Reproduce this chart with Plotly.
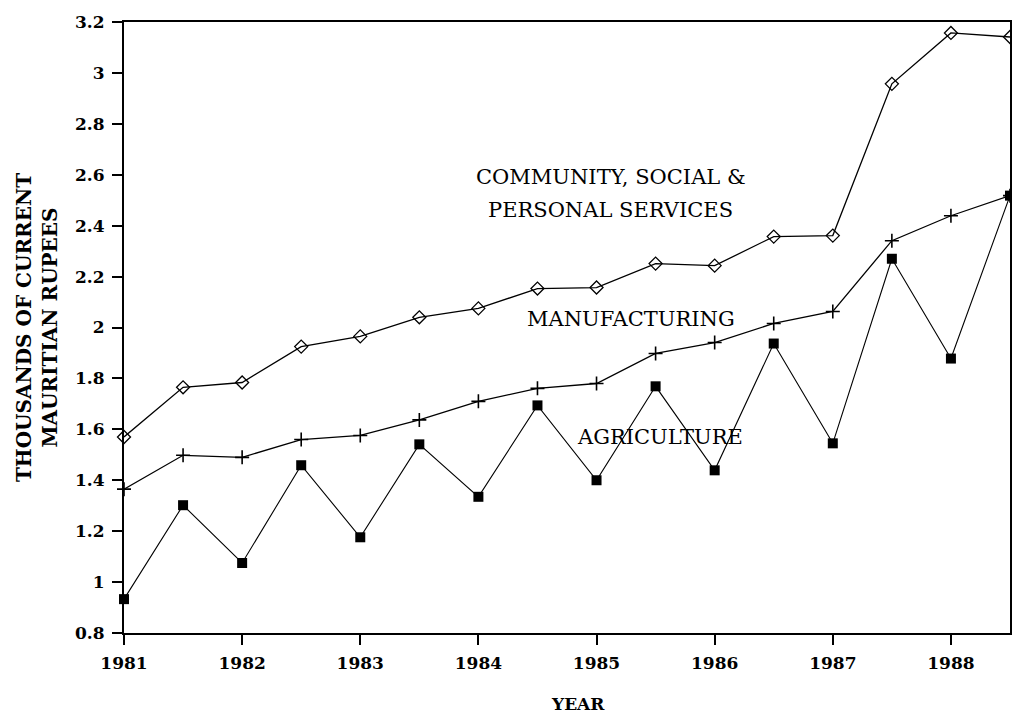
import plotly.graph_objects as go

years = [1981, 1981.5, 1982, 1982.5, 1983, 1983.5, 1984, 1984.5,
         1985, 1985.5, 1986, 1986.5, 1987, 1987.5, 1988, 1988.5]
community = [1.57, 1.765, 1.784, 1.925, 1.965, 2.04, 2.075, 2.153,
             2.157, 2.251, 2.243, 2.357, 2.361, 2.957, 3.157, 3.141]
manufacturing = [1.365, 1.498, 1.49, 1.56, 1.576, 1.637, 1.71, 1.761,
                 1.78, 1.898, 1.941, 2.016, 2.063, 2.341, 2.439, 2.518]
agriculture = [0.933, 1.302, 1.075, 1.459, 1.176, 1.541, 1.335, 1.694,
               1.40, 1.769, 1.439, 1.937, 1.545, 2.27, 1.878, 2.518]

serif = "DejaVu Serif"

fig = go.Figure()
fig.add_trace(go.Scatter(x=years, y=community, mode="lines+markers", cliponaxis=False,
                         line=dict(color="black", width=1.3),
                         marker=dict(symbol="diamond-open", size=10, color="black",
                                     line=dict(width=1.3))))
fig.add_trace(go.Scatter(x=years, y=manufacturing, mode="lines+markers", cliponaxis=False,
                         line=dict(color="black", width=1.3),
                         marker=dict(symbol="cross-thin", size=10,
                                     line=dict(color="black", width=1.6))))
fig.add_trace(go.Scatter(x=years, y=agriculture, mode="lines+markers", cliponaxis=False,
                         line=dict(color="black", width=1.1),
                         marker=dict(symbol="square", size=10, color="black")))

labels = [
    (1985.12, 2.59, "COMMUNITY, SOCIAL &"),
    (1985.12, 2.46, "PERSONAL SERVICES"),
    (1985.29, 2.035, "MANUFACTURING"),
    (1985.54, 1.57, "AGRICULTURE"),
]
for lx, ly, txt in labels:
    fig.add_annotation(x=lx, y=ly, text=txt, showarrow=False,
                       font=dict(family=serif, size=21, color="black"))

# x-axis title placed a little right of centre, as in the original
fig.add_annotation(x=0.512, y=-0.117, xref="paper", yref="paper", text="YEAR",
                   showarrow=False, yanchor="middle",
                   font=dict(family=serif, size=17, color="black", weight="bold"))

axis_common = dict(showgrid=False, zeroline=False, showline=True, linecolor="black",
                   linewidth=2, mirror=True, ticks="outside", ticklen=10,
                   tickcolor="black", tickwidth=1.5, ticklabelstandoff=4,
                   tickfont=dict(family=serif, size=17, color="black", weight="bold"))

fig.update_xaxes(range=[1981, 1988.5], dtick=1, tick0=1981, **axis_common)
fig.update_yaxes(range=[0.8, 3.2], dtick=0.2, tick0=0.8,
                 title=dict(text="THOUSANDS OF CURRENT<br>MAURITIAN RUPEES", standoff=12,
                            font=dict(family=serif, size=20, color="black", weight="bold")),
                 **axis_common)

fig.update_layout(width=1008, height=706, showlegend=False,
                  plot_bgcolor="white", paper_bgcolor="white",
                  margin=dict(l=116, r=4, t=12, b=81))

fig.write_html("out.html")
